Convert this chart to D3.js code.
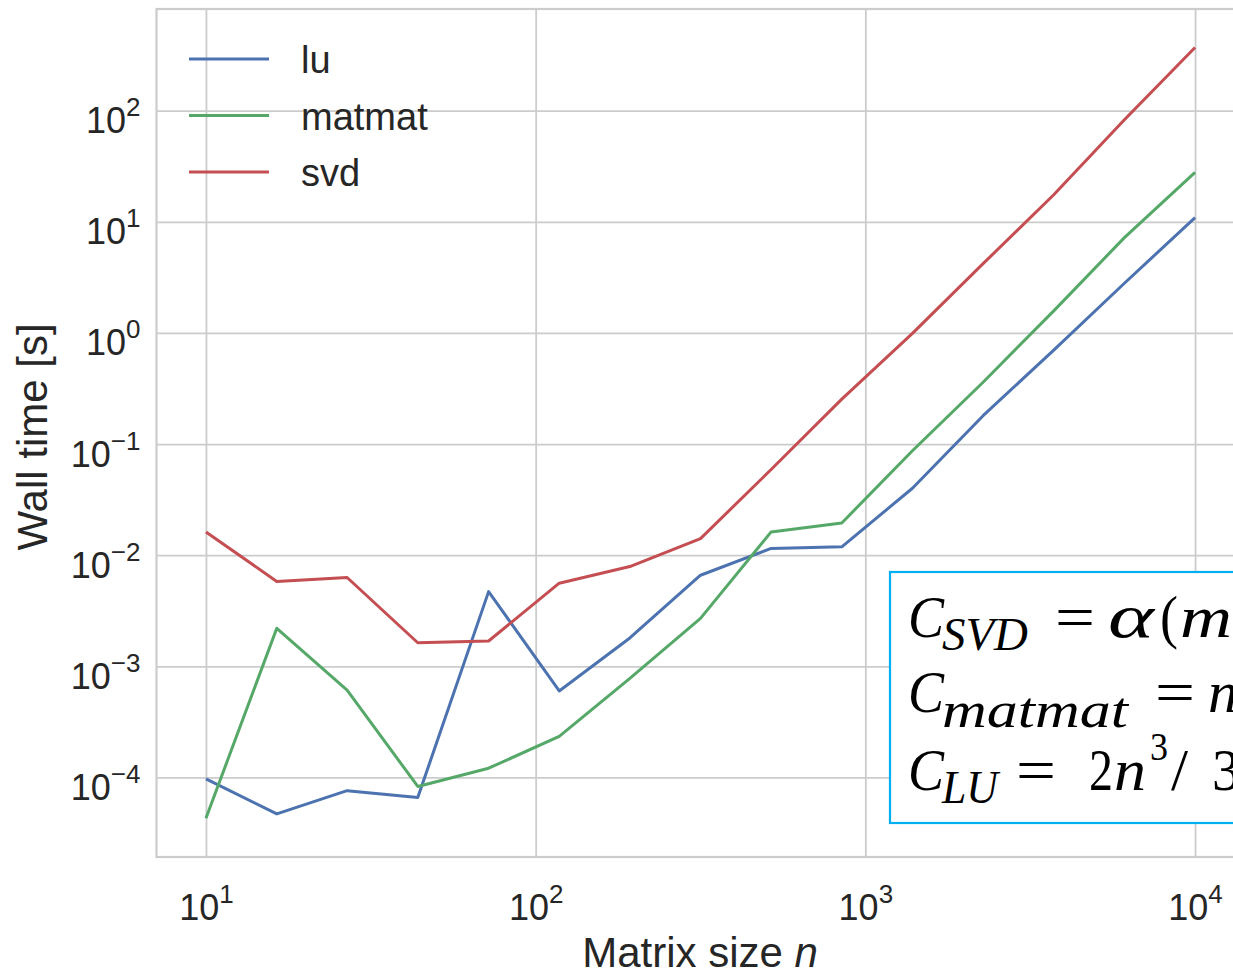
<!DOCTYPE html>
<html>
<head>
<meta charset="utf-8">
<script src="https://cdn.jsdelivr.net/npm/d3@7"></script>
<style>
  body { margin: 0; background: #fff; }
  svg { display: block; font-family: "Liberation Sans", Arial, sans-serif; }
</style>
</head>
<body>
<svg id="chart" width="1233" height="975"></svg>
<script>
// matrix sizes n (15 sizes, log spaced 10 .. 10^4)
const sizes = [10, 16.4, 26.8, 43.9, 72.0, 117.9, 193.1, 316.2, 517.9, 848.3, 1389.5, 2275.8, 3727.6, 6105.4, 10000];
// wall time in seconds
const luTimes = [9.7e-5, 4.7e-5, 7.6e-5, 6.6e-5, 4.7e-3, 6.0e-4, 1.8e-3, 6.6e-3, 0.0115, 0.0119, 0.040, 0.18, 0.70, 2.8, 10.9];
const matmatTimes = [4.3e-5, 2.2e-3, 6.1e-4, 8.3e-5, 1.21e-4, 2.34e-4, 7.8e-4, 2.7e-3, 0.0162, 0.0195, 0.087, 0.36, 1.58, 7.2, 27.9];
const svdTimes = [0.0162, 0.0058, 0.0063, 0.00163, 0.00169, 0.0056, 0.0079, 0.0141, 0.059, 0.254, 0.99, 4.2, 17.5, 83, 370];
const seriesNames = ['lu', 'matmat', 'svd'];
const seriesColors = ['#4c72b0', '#55a868', '#c44e52'];
const xTickExps = [1, 2, 3, 4];
const yTickExps = [-4, -3, -2, -1, 0, 1, 2];

const series = [luTimes, matmatTimes, svdTimes].map((vals, i) => ({
  name: seriesNames[i],
  color: seriesColors[i],
  points: sizes.map((n, j) => ({ n: n, t: vals[j] }))
}));

const svg = d3.select('#chart');
const margin = { top: 9, left: 156.5 };
const plotRight = 1244.5, plotBottom = 857;
const innerW = plotRight - margin.left, innerH = plotBottom - margin.top;
const textColor = '#262626', gridColor = '#cccccc';

const x = d3.scaleLog().domain([Math.pow(10, 0.85), Math.pow(10, 4.15)]).range([margin.left, plotRight]);
const y = d3.scaleLog().domain([Math.pow(10, -4.716), Math.pow(10, 2.915)]).range([plotBottom, margin.top]);

const minus = e => (e < 0 ? '\u2212' + (-e) : '' + e);

// grid + x tick labels
const gx = svg.append('g').attr('transform', `translate(0,${plotBottom})`)
  .call(d3.axisBottom(x).tickValues(xTickExps.map(e => Math.pow(10, e))).tickSize(-innerH).tickPadding(0).tickFormat(''));
gx.select('.domain').remove();
gx.selectAll('.tick line').attr('stroke', gridColor).attr('stroke-width', 1.8);
gx.selectAll('.tick text').each(function(d, i) {
  const t = d3.select(this).attr('y', 63).attr('dy', null).attr('fill', textColor)
    .attr('font-size', 36).attr('text-anchor', 'middle');
  t.append('tspan').text('10');
  t.append('tspan').attr('font-size', 26).attr('dy', -17).text(minus(xTickExps[i]));
});

// grid + y tick labels
const gy = svg.append('g').attr('transform', `translate(${margin.left},0)`)
  .call(d3.axisLeft(y).tickValues(yTickExps.map(e => Math.pow(10, e))).tickSize(-innerW).tickPadding(0).tickFormat(''));
gy.select('.domain').remove();
gy.selectAll('.tick line').attr('stroke', gridColor).attr('stroke-width', 1.8);
gy.selectAll('.tick text').each(function(d, i) {
  const t = d3.select(this).attr('x', -16).attr('dy', 22).attr('fill', textColor)
    .attr('font-size', 36).attr('text-anchor', 'end');
  t.append('tspan').text('10');
  t.append('tspan').attr('font-size', 26).attr('dy', -17).text(minus(yTickExps[i]));
});

// spines
svg.append('rect')
  .attr('x', margin.left).attr('y', margin.top).attr('width', innerW).attr('height', innerH)
  .attr('fill', 'none').attr('stroke', gridColor).attr('stroke-width', 2.2);

// lines
const line = d3.line().x(d => x(d.n)).y(d => y(d.t));
svg.append('g').selectAll('path').data(series).join('path')
  .attr('d', d => line(d.points))
  .attr('fill', 'none').attr('stroke', d => d.color)
  .attr('stroke-width', 3).attr('stroke-linejoin', 'round');

// legend
const legend = svg.append('g').selectAll('g').data(series).join('g')
  .attr('transform', (d, i) => `translate(189,${59 + i * 56.5})`);
legend.append('line').attr('x1', 0).attr('x2', 80)
  .attr('stroke', d => d.color).attr('stroke-width', 3);
legend.append('text').attr('x', 112).attr('y', 14).attr('font-size', 38)
  .attr('fill', textColor).text(d => d.name);

// axis labels
svg.append('text').attr('x', 700).attr('y', 967).attr('text-anchor', 'middle')
  .attr('font-size', 42).attr('fill', textColor)
  .call(t => { t.append('tspan').text('Matrix size '); t.append('tspan').attr('font-style', 'italic').text('n'); });
svg.append('text').attr('transform', 'translate(47,437) rotate(-90)').attr('text-anchor', 'middle')
  .attr('font-size', 42).attr('fill', textColor).text('Wall time [s]');

// cost formula box (runs off the right edge, as in the original slide)
const box = svg.append('g').attr('font-family', '"Liberation Serif", "DejaVu Serif", serif').attr('fill', '#000');
box.append('rect').attr('x', 890).attr('y', 572).attr('width', 400).attr('height', 251)
  .attr('fill', '#fff').attr('stroke', '#00b0f0').attr('stroke-width', 2.2);
const piece = (px, py, txt, size, italic, len) => {
  const t = box.append('text').attr('x', px).attr('y', py).attr('font-size', size)
    .attr('font-style', italic ? 'italic' : 'normal').text(txt);
  if (len) t.attr('textLength', len).attr('lengthAdjust', 'spacingAndGlyphs');
};
// C_SVD = α(mn² + n³)
piece(908, 637, 'C', 60, true, 36);
piece(942, 650, 'SVD', 46, true, 86);
piece(1055, 637, '=', 60, false, 40);
piece(1108, 637, '\u03b1', 62, true, 46);
piece(1160, 637, '(', 60, false, 18);
piece(1180, 637, 'm', 60, true, 52);
piece(1234, 637, 'n\u00b2 + n\u00b3)', 60, true);
// C_matmat = n³
piece(908, 712, 'C', 60, true, 36);
piece(942, 727, 'matmat', 50, true, 186);
piece(1155, 712, '=', 60, false, 40);
piece(1208, 712, 'n\u00b3', 60, true);
// C_LU = 2n³/3
piece(908, 790, 'C', 60, true, 36);
piece(942, 803, 'LU', 46, true, 56);
piece(1016, 790, '=', 60, false, 40);
piece(1089, 790, '2', 60, false, 24);
piece(1114, 790, 'n', 60, true, 32);
piece(1150, 760, '3', 40, false, 18);
piece(1171, 790, '/', 60, false, 17);
piece(1212, 790, '3', 60, false, 28);
</script>
</body>
</html>
